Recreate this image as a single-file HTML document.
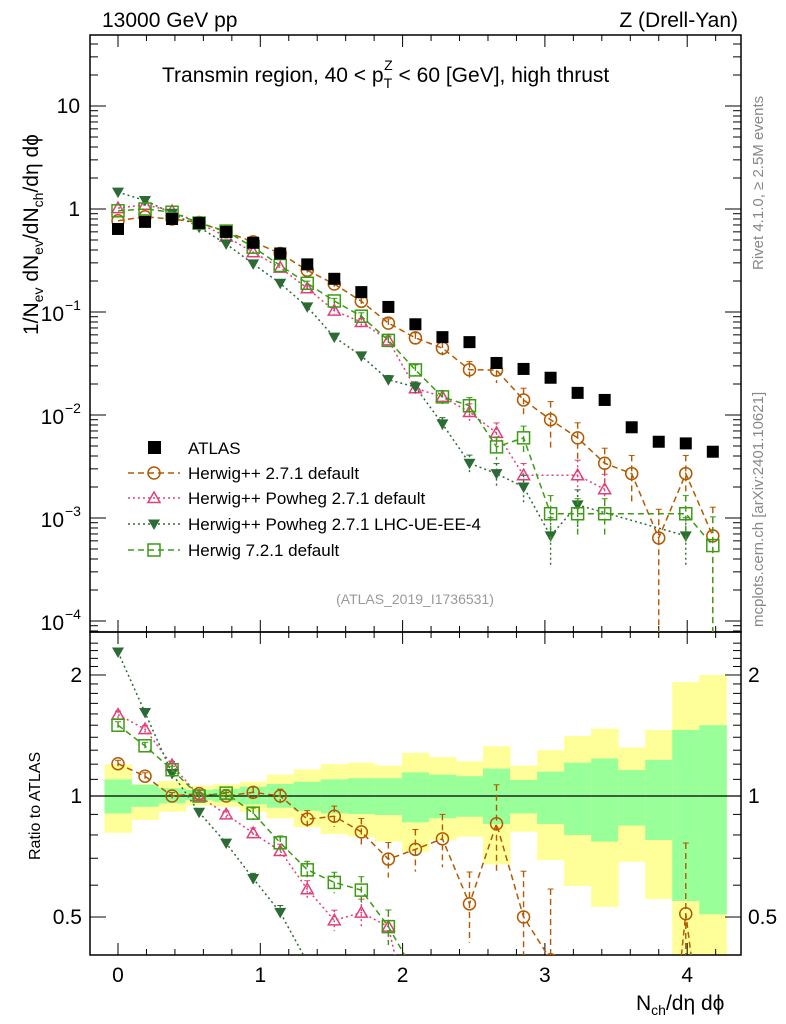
<!DOCTYPE html>
<html><head><meta charset="utf-8"><style>
html,body{margin:0;padding:0;background:#fff;width:786px;height:1024px;overflow:hidden;position:relative;font-family:"Liberation Sans",sans-serif}
svg{display:block;overflow:hidden}
svg text{font-family:"Liberation Sans","DejaVu Sans",sans-serif}
</style></head><body>
<svg id="c" width="786" height="1024" style="position:absolute;left:0;top:0" xmlns="http://www.w3.org/2000/svg"></svg>
<script>
const xVals=[0,0.19,0.38,0.57,0.76,0.95,1.14,1.33,1.52,1.71,1.9,2.09,2.28,2.47,2.66,2.85,3.04,3.23,3.42,3.61,3.8,3.99,4.18];
const atlas=[0.64,0.75,0.80,0.73,0.60,0.47,0.37,0.29,0.21,0.156,0.112,0.076,0.057,0.051,0.032,0.028,0.023,0.0164,0.014,0.0076,0.0055,0.0053,0.0044];
const hwDefault=[0.77,0.84,0.80,0.74,0.60,0.48,0.37,0.254,0.187,0.127,0.078,0.056,0.0446,0.0275,0.0273,0.014,0.009,0.006,0.0034,0.0027,0.00064,0.0027,0.00067];
const powDefault=[1.02,1.10,0.955,0.73,0.54,0.38,0.27,0.17,0.103,0.080,0.053,0.0182,0.015,0.0107,0.0067,0.0026,null,0.0026,0.0019,null,null,null,null];
const powUE=[1.46,1.21,0.91,0.665,0.458,0.293,0.19,0.112,0.057,0.0375,0.022,0.0187,0.0082,0.0034,0.0027,0.002,0.00067,0.00134,null,null,null,0.00067,null];
const hw7=[0.96,1.0,0.93,0.73,0.61,0.426,0.283,0.19,0.128,0.091,0.053,0.0274,0.015,0.0123,0.0049,0.006,0.0011,0.0011,0.0011,null,null,0.0011,0.00054];
const relErr=[0.02,0.02,0.02,0.02,0.02,0.03,0.04,0.05,0.06,0.08,0.1,0.12,0.15,0.2,0.25,0.3,0.5,0.4,0.4,0.5,0.9,0.5,0.9];
const yelHi=[1.20,1.071,1.09,1.061,1.069,1.085,1.13,1.165,1.20,1.21,1.19,1.28,1.25,1.22,1.33,1.19,1.30,1.41,1.47,1.32,1.46,1.92,2.0];
const yelLo=[0.81,0.872,0.914,0.946,0.94,0.914,0.88,0.836,0.804,0.792,0.77,0.727,0.777,0.792,0.676,0.815,0.693,0.597,0.53,0.686,0.554,0.35,0.35];
const grnHi=[1.10,1.067,1.045,1.035,1.041,1.055,1.071,1.085,1.10,1.107,1.107,1.145,1.13,1.12,1.17,1.096,1.15,1.21,1.24,1.16,1.23,1.46,1.50];
const grnLo=[0.905,0.94,0.959,0.977,0.968,0.953,0.935,0.919,0.905,0.902,0.897,0.86,0.88,0.888,0.852,0.905,0.852,0.80,0.77,0.844,0.777,0.548,0.508];
const mainTicks=["10","1","10","10","10","10"];
const mainExp=["","","−1","−2","−3","−4"];

const NS="http://www.w3.org/2000/svg";
const svg=document.getElementById('c');
const L=90,R=741,T=35,MB=632,RB=955;
const X=v=>118+v*142.3;
const Y=v=>209-103*Math.log10(v);
const YR=v=>796-402*Math.log10(v);
function el(tag,attrs,parent){const e=document.createElementNS(NS,tag);for(const k in attrs)e.setAttribute(k,attrs[k]);(parent||svg).appendChild(e);return e;}
function txt(x,y,s,attrs,parent){const e=el('text',Object.assign({x:x,y:y,'font-size':20,fill:'#000'},attrs||{}),parent);e.textContent=s;return e;}

const defs=el('defs',{});
const cp1=el('clipPath',{id:'cm'},defs);el('rect',{x:L,y:T,width:R-L,height:MB-T},cp1);
const cp2=el('clipPath',{id:'cr'},defs);el('rect',{x:L,y:MB,width:R-L,height:RB-MB},cp2);

const gb=el('g',{'clip-path':'url(#cr)'});


xVals.forEach((v,i)=>{
  const x0=X(v-0.095),x1=X(v+0.095);
  const yh=YR(yelHi[i]),yl=Math.min(YR(yelLo[i]),RB);
  const r1=el('rect',{x:x0,y:yh,width:x1-x0+0.5,height:yl-yh,fill:'#ffff99'},gb);
  
  
  const r2=el('rect',{x:x0,y:YR(grnHi[i]),width:x1-x0+0.5,height:YR(grnLo[i])-YR(grnHi[i]),fill:'#99ff99'},gb);
  
  
});
el('line',{x1:L,x2:R,y1:YR(1),y2:YR(1),stroke:'#000','stroke-width':1.2});

el('rect',{x:L,y:T,width:R-L,height:MB-T,fill:'none',stroke:'#000','stroke-width':1.5});
el('rect',{x:L,y:MB,width:R-L,height:RB-MB,fill:'none',stroke:'#000','stroke-width':1.5});

for(let k=-0.2;k<=4.4;k+=0.2){const v=Math.round(k*10)/10;const x=X(v);if(x<L||x>R)continue;
  const maj=Math.abs(v-Math.round(v))<1e-6;const len=maj?12:6;
  [[T,T+len],[MB,MB-len],[MB,MB+len],[RB,RB-len]].forEach(p=>el('line',{x1:x,x2:x,y1:p[0],y2:p[1],stroke:'#000','stroke-width':1}));
  if(maj){const t=txt(x,982,String(Math.round(v)),{'text-anchor':'middle','font-size':21});}
}
for(let d=-5;d<=2;d++){for(let m=1;m<10;m++){const v=m*Math.pow(10,d);const y=Y(v);if(y<T||y>MB)continue;
  const len=m==1?16:8;el('line',{x1:L,x2:L+len,y1:y,y2:y,stroke:'#000'});el('line',{x1:R,x2:R-len,y1:y,y2:y,stroke:'#000'});}}
[10,1,0.1,0.01,0.001,0.0001].forEach((v,i)=>{const y=Y(v)+7;
  if(mainExp[i]===""){const t=txt(80,y,mainTicks[i],{'text-anchor':'end','font-size':21});}
  else{const t=txt(64,y+2,mainTicks[i],{'text-anchor':'end','font-size':21});
    txt(65,y-9,mainExp[i],{'font-size':14});}
});
for(let v=0.4;v<=2.5;v+=0.1){const vv=Math.round(v*10)/10;const y=YR(vv);if(y<MB||y>RB)continue;
  const maj=(vv===0.5||vv===1||vv===2);const len=maj?16:8;
  el('line',{x1:L,x2:L+len,y1:y,y2:y,stroke:'#000'});el('line',{x1:R,x2:R-len,y1:y,y2:y,stroke:'#000'});}
[2,1,0.5].forEach(v=>{const t=txt(82,YR(v)+7,String(v),{'text-anchor':'end','font-size':21});
  const t2=txt(748,YR(v)+7,String(v),{'font-size':21});});

const series=[
 {name:'herwigpp-default',d:hwDefault,c:'#b35900',dash:'6,4',m:'circle'},
 {name:'powheg-default',d:powDefault,c:'#e0407a',dash:'2,3',m:'tri'},
 {name:'powheg-lhc-ue',d:powUE,c:'#2d6b36',dash:'2,3',m:'tridown'},
 {name:'herwig7',d:hw7,c:'#3c9b14',dash:'6,4',m:'square'}];
function marker(g,m,x,y,c){
  if(m==='circle')return el('circle',{cx:x,cy:y,r:6,fill:'none',stroke:c,'stroke-width':1.5},g);
  if(m==='tri')return el('polygon',{points:`${x},${y-6} ${x-6},${y+4.5} ${x+6},${y+4.5}`,fill:'none',stroke:c,'stroke-width':1.5},g);
  if(m==='tridown')return el('polygon',{points:`${x},${y+6} ${x-6},${y-4.5} ${x+6},${y-4.5}`,fill:c},g);
  return el('rect',{x:x-6,y:y-6,width:12,height:12,fill:'none',stroke:c,'stroke-width':1.5},g);
}
function drawSeries(s,clip,yf,vals,bottom){
  const g=el('g',{'clip-path':clip});
  let pts=[];
  vals.forEach((v,i)=>{if(v==null||!isFinite(v)||v<=0)return;pts.push([X(xVals[i]),yf(v),v,i]);});
  // clip segments to bottom limit so nothing extends beyond the page
  const lim=bottom+5;let path=[];
  for(let k=0;k<pts.length;k++){
    const p=pts[k];
    if(p[1]<=lim){path.push([p[0],p[1]]);}
    else{
      const prev=pts[k-1],next=pts[k+1];
      if(prev&&prev[1]<=lim){const t=(lim-prev[1])/(p[1]-prev[1]);path.push([prev[0]+t*(p[0]-prev[0]),lim]);}
      else path.push([p[0],lim]);
      if(next&&next[1]<=lim){const t=(lim-next[1])/(p[1]-next[1]);path.push([next[0]+t*(p[0]-next[0]),lim]);}
    }
  }
  el('polyline',{points:path.map(p=>p[0].toFixed(1)+','+p[1].toFixed(1)).join(' '),fill:'none',stroke:s.c,'stroke-width':1.5,'stroke-dasharray':s.dash},g);
  pts.forEach(p=>{if(p[1]>bottom+6)return;
    const e=relErr[p[3]];const hi=yf(p[2]*(1+e)),lo=Math.min(yf(Math.max(p[2]*(1-e),1e-6)),bottom);
    if(lo-hi>4){el('line',{x1:p[0],x2:p[0],y1:hi,y2:lo,stroke:s.c,'stroke-width':1.4,'stroke-dasharray':s.dash},g);
      el('line',{x1:p[0]-3,x2:p[0]+3,y1:hi,y2:hi,stroke:s.c},g);}
    const mk=marker(g,s.m,p[0],p[1],s.c);
    
    });
  return g;
}
series.forEach(s=>{
  const g1=drawSeries(s,'url(#cm)',Y,s.d,MB);
  
  
  const g2=drawSeries(s,'url(#cr)',YR,s.d.map((v,i)=>v==null?null:v/atlas[i]),RB);
  
  
});
const ga=el('g',{'clip-path':'url(#cm)'});


atlas.forEach((v,i)=>{const r=el('rect',{x:X(xVals[i])-6,y:Y(v)-6,width:12,height:12,fill:'#000'},ga);
  
  });

const lg=el('g',{});


el('rect',{x:148,y:441,width:13,height:13,fill:'#000'},lg);
txt(188,454,'ATLAS',{'font-size':17},lg);
const ly=[473,498,524,550];
const legNames=['Herwig++ 2.7.1 default','Herwig++ Powheg 2.7.1 default','Herwig++ Powheg 2.7.1 LHC-UE-EE-4','Herwig 7.2.1 default'];
series.forEach((s,i)=>{const y=ly[i];
  el('line',{x1:128,x2:180,y1:y,y2:y,stroke:s.c,'stroke-width':1.5,'stroke-dasharray':s.dash},lg);
  marker(lg,s.m,154,y,s.c);
  const t=txt(188,y+6,legNames[i],{'font-size':17},lg);
  
  
});
</script>
<svg width="786" height="1024" style="position:absolute;left:0;top:0" xmlns="http://www.w3.org/2000/svg">
<text x="102" y="27" font-size="21">13000 GeV pp</text>
<text x="738" y="27" font-size="21" text-anchor="end">Z (Drell-Yan)</text>
<text x="162" y="82" font-size="21">Transmin region, 40 &lt; p<tspan font-size="14" dy="6">T</tspan><tspan font-size="14" dx="-8" dy="-18">Z</tspan><tspan dy="12"> &lt; 60 [GeV], high thrust</tspan></text>
<text transform="translate(763,270) rotate(-90)" font-size="15" fill="#888">Rivet 4.1.0, ≥ 2.5M events</text>
<text transform="translate(763,627) rotate(-90)" font-size="15" fill="#888">mcplots.cern.ch [arXiv:2401.10621]</text>
<text x="415" y="604" font-size="14" fill="#999" text-anchor="middle">(ATLAS_2019_I1736531)</text>
<text transform="translate(38,335) rotate(-90)" font-size="21">1/N<tspan font-size="14" dy="5">ev</tspan><tspan dy="-5"> dN</tspan><tspan font-size="14" dy="5">ev</tspan><tspan dy="-5">/dN</tspan><tspan font-size="14" dy="5">ch</tspan><tspan dy="-5">/dη dϕ</tspan></text>
<text transform="translate(40,860) rotate(-90)" font-size="16">Ratio to ATLAS</text>
<text x="636" y="1010" font-size="21">N<tspan font-size="14" dy="5">ch</tspan><tspan dy="-5">/dη dϕ</tspan></text>
</svg>
</body></html>
